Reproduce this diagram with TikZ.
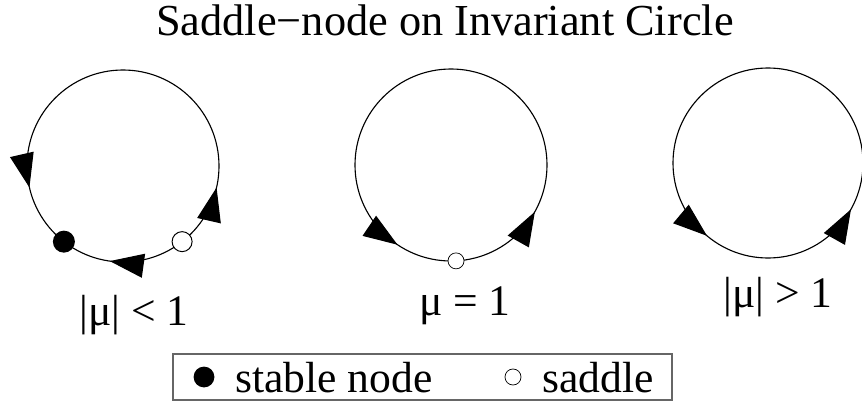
\documentclass[tikz,border=0pt]{standalone}
\usepackage{fontspec}
\setmainfont{Liberation Serif}
\usetikzlibrary{arrows.meta,decorations.markings,calc}

\begin{document}
\begin{tikzpicture}[x=0.025cm, y=0.025cm,
  % Node Styles
  stablept/.style={circle, fill=black, inner sep=0pt, minimum size=0.55cm},
  saddlept/.style={circle, draw, fill=white, line width=0.7pt, inner sep=0pt, minimum size=0.5cm},
  semipt/.style={circle, draw, fill=white, line width=0.5pt, inner sep=0pt, minimum size=0.4cm},
  txt/.style={font=\fontsize{31}{36}\selectfont, inner sep=0pt, anchor=base},
  legendbox/.style={rectangle, draw=black!60, line width=1pt, minimum width=12.475cm, minimum height=1.15cm},
  % Arrow Styles
  orbit/.style={line width=0.8pt},
  flowat/.style={postaction={decorate, decoration={markings, mark=at position #1 with {\arrow{Triangle[length=0.85cm, width=0.6cm]}}}}},
  flowback/.style={postaction={decorate, decoration={markings, mark=at position #1 with {\arrowreversed{Triangle[length=0.85cm, width=0.6cm]}}}}}
]
\useasboundingbox (0,0) rectangle (862,403);

% Title
\node[txt, font=\fontsize{31.5}{36}\selectfont] (T) at (445,367) {Saddle−node on Invariant Circle};

% Circles
\coordinate (C_0) at (123,237);
\coordinate (C_1) at (451,238);
\coordinate (C_2) at (768,240);

\draw[orbit, flowat=0.536, flowat=0.964, flowback=0.728] (C_0) circle[radius=96];
\draw[orbit, flowat=0.656, flowat=0.919] (C_1) circle[radius=96];
\draw[orbit, flowat=0.639, flowat=0.919] (C_2) circle[radius=95];

% Fixed points
\node[stablept] (N_0) at ($(C_0)+(-128:96)$) {};
\node[saddlept] (N_1) at ($(C_0)+(-52:96)$) {};
\node[semipt] (N_2) at ($(C_1)+(-87:96)$) {};

% Parameter labels
\node[txt] (L_0) at (134,78) {|μ| < 1};
\node[txt] (L_1) at (465,88) {μ = 1};
\node[txt] (L_2) at (778,96) {|μ| > 1};

% Legend
\node[legendbox] (K) at (422.5,26) {};
\node[stablept, minimum size=0.52cm] (K_0) at (204,26) {};
\node[txt, anchor=base west] (K_1) at (235,11) {stable node};
\node[saddlept, minimum size=0.4cm, line width=0.5pt] (K_2) at (513,26) {};
\node[txt, anchor=base west] (K_3) at (542,11) {saddle};

\end{tikzpicture}
\end{document}
